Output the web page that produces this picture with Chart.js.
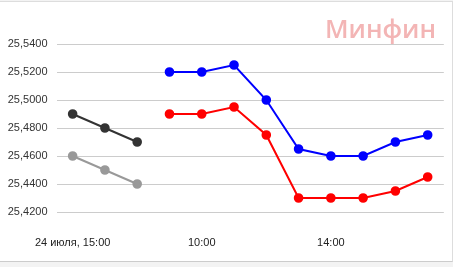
<!DOCTYPE html>
<html>
<head>
<meta charset="utf-8">
<script src="https://cdn.jsdelivr.net/npm/chart.js@4"></script>
<style>
  html, body { margin: 0; padding: 0; }
  body { width: 453px; height: 267px; background: #f3f3f3; overflow: hidden; position: relative; }
  #wrap {
    position: absolute; left: 0; top: 1px;
    width: 452px; height: 259px;
    background: #fff;
    border-top: 1px solid #ddd;
    border-right: 1px solid #ddd;
    border-bottom: 1px solid #ccc;
  }
</style>
</head>
<body>
<div id="wrap"><canvas id="chart" width="452" height="259"></canvas></div>
<script>
const categories = ['15:00', '16:00', '17:00', '09:00', '10:00', '11:00', '12:00', '13:00', '14:00', '15:00', '16:00', '17:00'];
const tickLabels = ['24 июля, 15:00', '', '', '', '10:00', '', '', '', '14:00', '', '', ''];
const yTicks = [25.42, 25.44, 25.46, 25.48, 25.50, 25.52, 25.54];

const prevBuy = [25.49, 25.48, 25.47, null, null, null, null, null, null, null, null, null];
const prevSell = [25.46, 25.45, 25.44, null, null, null, null, null, null, null, null, null];
const sell = [null, null, null, 25.52, 25.52, 25.525, 25.50, 25.465, 25.46, 25.46, 25.47, 25.475];
const buy = [null, null, null, 25.49, 25.49, 25.495, 25.475, 25.43, 25.43, 25.43, 25.435, 25.445];

// pale "Минфин" mark in the top right corner
const watermark = {
  id: 'watermark',
  beforeDraw(chart) {
    const ctx = chart.ctx;
    ctx.save();
    ctx.font = '600 26px "Open Sans", "Liberation Sans", sans-serif';
    ctx.fillStyle = '#f3b5b5';
    ctx.textBaseline = 'alphabetic';
    const text = 'Минфин';
    const w = ctx.measureText(text).width;
    // squeeze/stretch to the reference span 325..436
    ctx.translate(325, 36);
    ctx.scale(111 / w, 1);
    ctx.fillText(text, 0, 0);
    ctx.restore();
  }
};

function line(data, color) {
  return {
    data: data,
    borderColor: color,
    backgroundColor: color,
    pointBackgroundColor: color,
    pointBorderColor: color,
    borderWidth: 2,
    pointRadius: 3.8,
    spanGaps: false,
    tension: 0
  };
}

new Chart(document.getElementById('chart'), {
  type: 'line',
  data: {
    labels: categories,
    datasets: [
      line(prevBuy, '#333333'),
      line(prevSell, '#999999'),
      line(sell, '#0000ff'),
      line(buy, '#ff0000')
    ]
  },
  options: {
    responsive: false,
    animation: false,
    layout: { padding: { top: 42, right: 7.5, left: 0, bottom: 0 } },
    plugins: { legend: { display: false }, tooltip: { enabled: false } },
    scales: {
      x: {
        offset: true,
        grid: { display: false, drawTicks: false },
        border: { display: false },
        afterFit: (s) => { s.height = 49; },
        ticks: {
          autoSkip: false,
          maxRotation: 0,
          padding: 24,
          color: '#222',
          font: { family: '"Liberation Sans", Arial, sans-serif', size: 11 },
          callback: (v, i) => tickLabels[i]
        }
      },
      y: {
        min: yTicks[0],
        max: yTicks[yTicks.length - 1],
        afterFit: (s) => { s.width = 56.5; },
        afterBuildTicks: (s) => { s.ticks = yTicks.map(v => ({ value: v })); },
        grid: { color: '#cccccc', drawTicks: false },
        border: { display: false },
        ticks: {
          padding: 9,
          color: '#333',
          font: { family: '"Liberation Sans", Arial, sans-serif', size: 11 },
          callback: (v) => v.toFixed(4).replace('.', ',')
        }
      }
    }
  },
  plugins: [watermark]
});
</script>
</body>
</html>
